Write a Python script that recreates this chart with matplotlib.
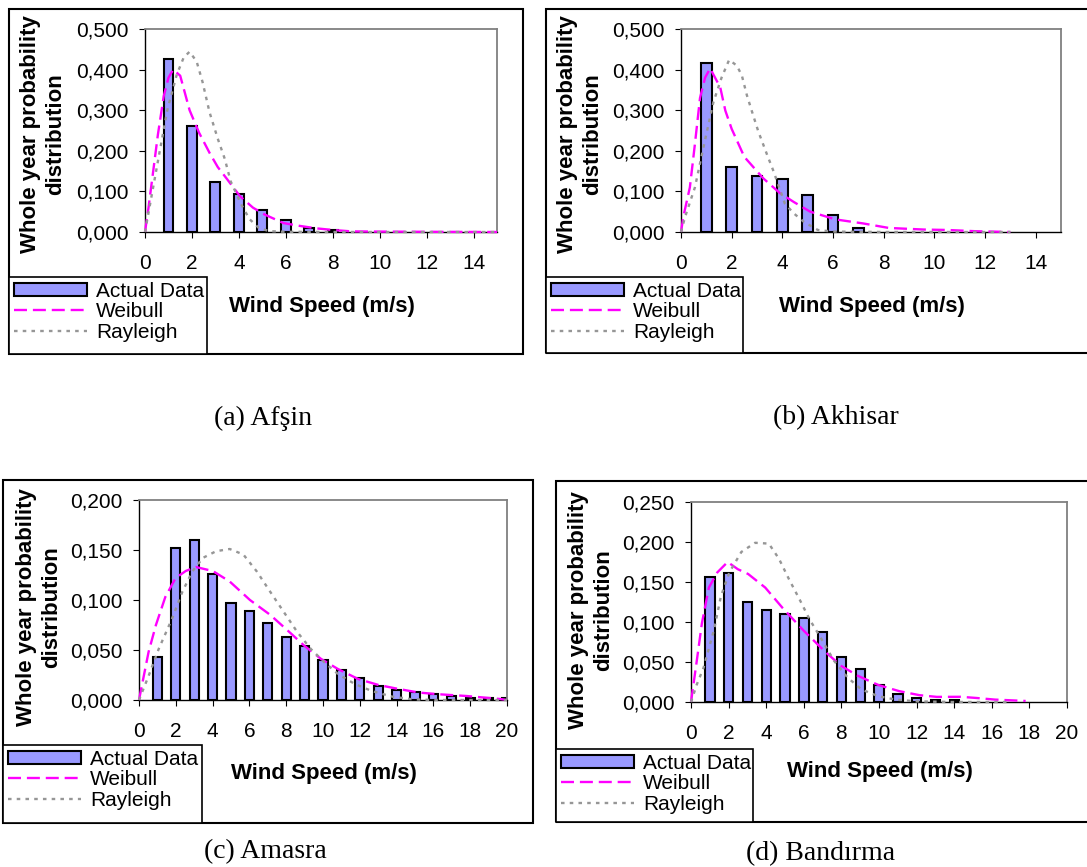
import numpy as np
import matplotlib
matplotlib.use("Agg")
import matplotlib.pyplot as plt
from matplotlib.patches import Rectangle, Patch
from matplotlib.lines import Line2D
from matplotlib.ticker import FuncFormatter, MultipleLocator

plt.rcParams['font.family'] = 'Liberation Sans'

W, H = 1087, 867

# ---------------- data ----------------
# (a) Afsin
afsin_bar_x = [1, 2, 3, 4, 5, 6, 7, 8]
afsin_bar_y = [0.426, 0.260, 0.122, 0.093, 0.053, 0.029, 0.010, 0.005]
afsin_wb_x = [0, 0.15, 0.35, 0.55, 0.8, 1.0, 1.2, 1.5, 1.9, 2.3, 2.75, 3.1, 3.5,
              4.05, 4.6, 5.1, 5.9, 6.6, 7.3, 8.0, 8.8, 10, 12, 15]
afsin_wb_y = [0, 0.06, 0.15, 0.24, 0.335, 0.38, 0.40, 0.385, 0.30, 0.245, 0.195,
              0.16, 0.13, 0.088, 0.06, 0.043, 0.022, 0.015, 0.009, 0.005, 0.0015,
              0.001, 0.0005, 0.0]
afsin_ry_x = [0, 0.3, 0.6, 0.95, 1.35, 1.65, 1.9, 2.2, 2.45, 2.75, 3.1, 3.4, 3.65,
              4.1, 4.45, 4.85, 5.3, 6, 8, 15]
afsin_ry_y = [0, 0.095, 0.19, 0.30, 0.387, 0.43, 0.444, 0.42, 0.37, 0.295, 0.23,
              0.18, 0.125, 0.068, 0.032, 0.01, 0.002, 0.0005, 0, 0]

# (b) Akhisar
akhisar_bar_x = [1, 2, 3, 4, 5, 6, 7]
akhisar_bar_y = [0.417, 0.161, 0.137, 0.131, 0.092, 0.043, 0.009]
akhisar_wb_x = [0, 0.1, 0.35, 0.55, 0.75, 0.95, 1.15, 1.55, 1.75, 2.0, 2.5, 3.25,
                3.9, 4.45, 5.1, 6.1, 7.2, 8.2, 9.6, 10.5, 11.6, 13]
akhisar_wb_y = [0, 0.04, 0.11, 0.217, 0.33, 0.38, 0.403, 0.356, 0.299, 0.254, 0.185,
                0.132, 0.096, 0.074, 0.05, 0.031, 0.021, 0.01, 0.006, 0.005, 0.002, 0.0]
akhisar_ry_x = [0, 0.16, 0.55, 0.88, 1.28, 1.6, 1.9, 2.2, 2.4, 2.6, 2.8, 3.05, 3.4,
                3.65, 4.1, 4.45, 4.85, 5.4, 6, 8, 10, 13]
akhisar_ry_y = [0, 0.037, 0.11, 0.207, 0.32, 0.38, 0.424, 0.41, 0.386, 0.337, 0.297,
                0.248, 0.19, 0.15, 0.07, 0.046, 0.025, 0.005, 0.001, 0, 0, 0]

# (c) Amasra
amasra_bar_x = list(range(1, 21))
amasra_bar_y = [0.043, 0.152, 0.160, 0.126, 0.097, 0.089, 0.077, 0.063, 0.054, 0.040,
                0.030, 0.022, 0.014, 0.010, 0.008, 0.006, 0.004, 0.002, 0.002, 0.002]
amasra_wb_x = [0, 0.52, 0.92, 1.43, 1.99, 2.54, 3.09, 4.01, 4.93, 6.03, 7.14, 8.05,
               8.97, 9.9, 10.81, 11.91, 13.02, 14.12, 15.22, 16.33, 17.8, 19.64, 20]
amasra_wb_y = [0, 0.048, 0.075, 0.103, 0.122, 0.129, 0.133, 0.129, 0.1185, 0.100,
               0.085, 0.070, 0.0545, 0.041, 0.031, 0.021, 0.015, 0.011, 0.0074,
               0.0057, 0.004, 0.001, 0.0]
amasra_ry_x = [0, 0.52, 1.07, 1.8, 2.35, 2.9, 3.46, 4.19, 4.93, 5.67, 6.4, 7.14, 7.87,
               8.6, 9.34, 10.08, 10.81, 11.73, 12.65, 13.75, 14.86, 16, 20]
amasra_ry_y = [0, 0.024, 0.051, 0.0815, 0.108, 0.1286, 0.142, 0.1488, 0.151, 0.1455,
               0.1286, 0.108, 0.088, 0.068, 0.051, 0.0377, 0.026, 0.016, 0.009,
               0.0034, 0.0007, 0, 0]

# (d) Bandirma
bandirma_bar_x = list(range(1, 15))
bandirma_bar_y = [0.156, 0.161, 0.125, 0.115, 0.110, 0.105, 0.087, 0.0565, 0.0415,
                  0.021, 0.0105, 0.0055, 0.003, 0.0025]
bandirma_wb_x = [0, 0.31, 0.58, 0.95, 1.4, 1.95, 2.49, 3.04, 3.95, 4.87, 5.96, 7.06,
                 7.97, 8.88, 9.97, 11.07, 12.16, 13.07, 14.35, 15.2, 16.17, 17.8]
bandirma_wb_y = [0, 0.052, 0.0985, 0.143, 0.162, 0.175, 0.166, 0.160, 0.143, 0.1176,
                 0.090, 0.0645, 0.0454, 0.0327, 0.0212, 0.0136, 0.0085, 0.0064,
                 0.0065, 0.005, 0.003, 0.0013]
bandirma_ry_x = [0, 0.31, 0.67, 1.22, 1.59, 2.04, 2.68, 3.41, 4.14, 4.68, 5.21, 5.78,
                 6.32, 6.87, 7.6, 8.33, 9.06, 9.97, 10.89, 12, 14, 17]
bandirma_ry_y = [0, 0.022, 0.043, 0.09, 0.132, 0.162, 0.1876, 0.199, 0.198, 0.179,
                 0.1536, 0.128, 0.1027, 0.0815, 0.0518, 0.0306, 0.0157, 0.0072,
                 0.003, 0.0008, 0, 0]

captions = ["(a) Afşin", "(b) Akhisar", "(c) Amasra", "(d) Bandırma"]
legend_labels = ["Actual Data", "Weibull", "Rayleigh"]

BAR_COLOR = '#9999FF'
WB_COLOR = '#FF00FF'
RY_COLOR = '#969696'
WB_DASH = (5.5, 2.5)
RY_DASH = (1.5, 2.2)


def box(l, t, r, b, lw=1.5, fill=False, z=1):
    rect = Rectangle((l / W, 1 - b / H), (r - l) / W, (b - t) / H,
                     transform=fig.transFigure, fill=fill, facecolor='white',
                     edgecolor='black', lw=lw, zorder=z)
    fig.add_artist(rect)


def panel(frame, plot, leg, ylab_x, ylab_y, xlab, cap,
          bx, by, wx, wy, rx, ry, xmax, ymax, ystep, barw, caption):
    box(*frame)
    l, t, r, b = plot
    ax = fig.add_axes([l / W, 1 - b / H, (r - l) / W, (b - t) / H])
    ax.bar(bx, by, width=barw, color=BAR_COLOR, edgecolor='black', lw=1.5, zorder=2)
    ax.plot(wx, wy, color=WB_COLOR, lw=1.7, dashes=WB_DASH, zorder=3, clip_on=False)
    ax.plot(rx, ry, color=RY_COLOR, lw=1.7, dashes=RY_DASH, zorder=3, clip_on=False)
    ax.set_xlim(0, xmax)
    ax.set_ylim(0, ymax)
    ax.xaxis.set_major_locator(MultipleLocator(2))
    ax.yaxis.set_major_locator(MultipleLocator(ystep))
    ax.yaxis.set_major_formatter(FuncFormatter(lambda v, p: f'{v:.3f}'.replace('.', ',')))
    ax.tick_params(axis='both', direction='out', length=4, width=0.8, labelsize=15)
    ax.tick_params(axis='x', pad=12)
    ax.tick_params(axis='y', pad=8)
    for s in ['left', 'bottom']:
        ax.spines[s].set_color('black')
        ax.spines[s].set_linewidth(1.0)
    for s in ['top', 'right']:
        ax.spines[s].set_color('#808080')
        ax.spines[s].set_linewidth(1.3)
    ax.set_facecolor('white')

    fig.text(ylab_x / W, 1 - ylab_y / H, "Whole year probability\ndistribution",
             rotation=90, ha='center', va='center', fontsize=16, fontweight='bold',
             multialignment='center', linespacing=1.25)
    fig.text(xlab[0] / W, 1 - xlab[1] / H, "Wind Speed (m/s)", ha='center',
             va='center', fontsize=16, fontweight='bold')

    # legend box
    box(*leg, lw=1.2, fill=True, z=2)
    handles = [Patch(facecolor=BAR_COLOR, edgecolor='black', lw=1.5),
               Line2D([], [], color=WB_COLOR, lw=1.7, dashes=WB_DASH),
               Line2D([], [], color=RY_COLOR, lw=1.7, dashes=RY_DASH)]
    lg = fig.legend(handles, legend_labels, loc='upper left',
                    bbox_to_anchor=((leg[0] + 5) / W, 1 - (leg[1] + 5) / H),
                    frameon=False, borderaxespad=0,
                    borderpad=0, fontsize=15, handlelength=3.5, handleheight=0.6,
                    handletextpad=0.45, labelspacing=0.07)
    lg.set_zorder(10)

    fig.text(cap[0] / W, 1 - cap[1] / H, caption, ha='center', va='center',
             fontsize=20, family='Liberation Serif')
    return ax


fig = plt.figure(figsize=(W / 100, H / 100), dpi=100)

panel((9, 9, 523, 354), (145, 29, 497, 232), (9, 277, 207, 354), 43, 134,
      (322, 306), (263, 418), afsin_bar_x, afsin_bar_y, afsin_wb_x, afsin_wb_y,
      afsin_ry_x, afsin_ry_y, 15, 0.5, 0.1, 0.42, captions[0])
panel((546, 9, 1095, 353), (681, 29, 1061, 232), (546, 277, 743, 353), 580, 134,
      (872, 306), (836, 418), akhisar_bar_x, akhisar_bar_y, akhisar_wb_x, akhisar_wb_y,
      akhisar_ry_x, akhisar_ry_y, 15, 0.5, 0.1, 0.42, captions[1])
panel((3, 480, 533, 823), (139, 500, 507, 700), (3, 745, 202, 823), 39, 607,
      (324, 774), (265, 852), amasra_bar_x, amasra_bar_y, amasra_wb_x, amasra_wb_y,
      amasra_ry_x, amasra_ry_y, 20, 0.2, 0.05, 0.5, captions[2])
panel((556, 481, 1095, 822), (691, 502, 1067, 702), (556, 749, 753, 822), 591, 610,
      (880, 772), (821, 854), bandirma_bar_x, bandirma_bar_y, bandirma_wb_x,
      bandirma_wb_y, bandirma_ry_x, bandirma_ry_y, 20, 0.25, 0.05, 0.5, captions[3])

fig.savefig("out.png", dpi=100, facecolor='white')
